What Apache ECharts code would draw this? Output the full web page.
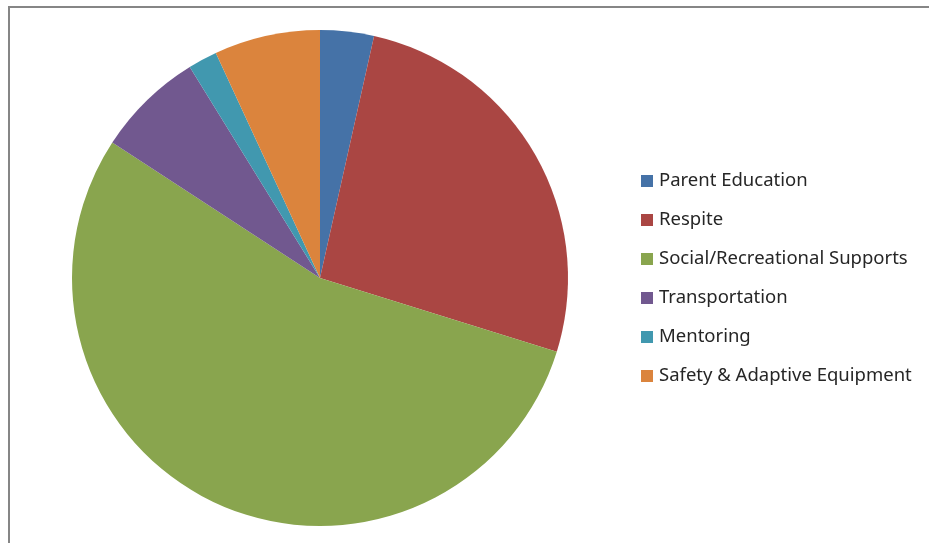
<!DOCTYPE html>
<head>
    <meta charset="utf-8">
    <title>Supports</title>
</head>
<body style="margin:0;background:#fff">
    <div id="main" style="width:929px;height:543px"></div>
    <script src="https://cdn.jsdelivr.net/npm/echarts@6/dist/echarts.min.js"></script>
    <script type="text/javascript">
        // 数据
        var categories = ['Parent Education', 'Respite', 'Social/Recreational Supports',
            'Transportation', 'Mentoring', 'Safety & Adaptive Equipment'];
        var values = [3.5, 26.3, 54.4, 7.0, 1.9, 6.9];
        var colors = ['#4572A7', '#AA4643', '#89A54E', '#71588F', '#4198AF', '#DB843D'];

        var myChart = echarts.init(document.getElementById('main'));

        var pieData = categories.map(function (name, i) {
            return { name: name, value: values[i] };
        });

        var option = {
            animation: false,
            color: colors,
            graphic: [{
                type: 'rect',
                shape: { x: 9, y: 7, width: 1000, height: 600 },
                style: { fill: 'none', stroke: '#868686', lineWidth: 2 },
                silent: true
            }],
            legend: {
                orient: 'vertical',
                left: 641,
                top: 170,
                padding: 0,
                itemWidth: 12,
                itemHeight: 12,
                itemGap: 17,
                icon: 'rect',
                textStyle: {
                    fontFamily: 'Noto Sans',
                    fontSize: 18.5,
                    lineHeight: 22,
                    color: '#262626',
                    padding: [0, 0, 0, 1]
                },
                data: categories
            },
            series: [{
                type: 'pie',
                center: [320, 278],
                radius: 248,
                startAngle: 90,
                clockwise: true,
                label: { show: false },
                labelLine: { show: false },
                emphasis: { disabled: true },
                itemStyle: { borderWidth: 0 },
                data: pieData
            }]
        };

        myChart.setOption(option);
    </script>
</body>
